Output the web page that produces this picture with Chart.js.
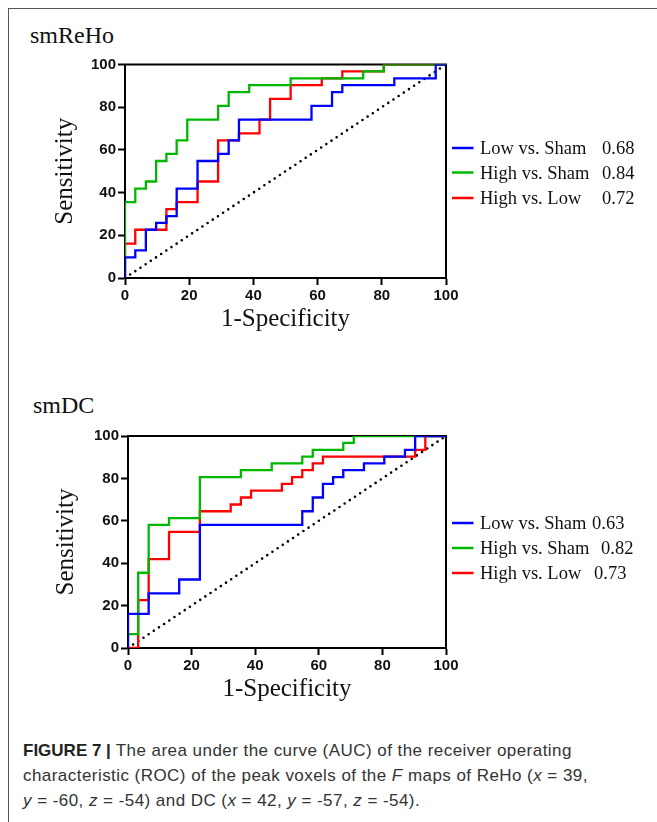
<!DOCTYPE html>
<html lang="en">
<head>
<meta charset="UTF-8">
<title>Figure 7 | ROC of ReHo and DC</title>
<script src="https://cdn.jsdelivr.net/npm/chart.js"></script>
<style>
  body { margin: 0; background: #fff; }
  .page { position: relative; width: 657px; height: 822px; overflow: hidden; background: #fff; }
  .frame { position: absolute; left: 8px; top: 8px; width: 700px; height: 900px;
           border-left: 1.5px solid #555; border-top: 1.5px solid #555; }
  .panel { position: absolute; left: 0; }
  .tag { position: absolute; font: 24px "Liberation Serif", serif; line-height: 24px; color: #111; white-space: nowrap; }
  .caption { position: absolute; left: 23px; top: 738px; font: 17px "Liberation Sans", Arial, sans-serif;
             letter-spacing: 0.45px; line-height: 25px; color: #333; white-space: nowrap; }
  .caption b { color: #222; letter-spacing: 0; }
</style>
</head>
<body>
<div class="page">
  <div class="frame"></div>

  <div class="tag" style="left:30px; top:23px">smReHo</div>
  <canvas id="chartReho" class="panel" style="top:0" width="657" height="350"></canvas>

  <div class="tag" style="left:33px; top:393px">smDC</div>
  <canvas id="chartDc" class="panel" style="top:370px" width="657" height="350"></canvas>

  <div class="caption"><b>FIGURE 7 |</b> The area under the curve (AUC) of the receiver operating<br>characteristic (ROC) of the peak voxels of the <i>F</i> maps of ReHo (<i>x</i> = 39,<br><i>y</i> = -60, <i>z</i> = -54) and DC (<i>x</i> = 42, <i>y</i> = -57, <i>z</i> = -54).</div>
</div>

<script>
  // ---- data (1-specificity / sensitivity, in %) ----
  const tick_values = [0, 20, 40, 60, 80, 100];
  const series_names = ['Low vs. Sham', 'High vs. Sham', 'High vs. Low'];

  // smReHo
  const reho_low_sham_x  = [0, 0, 3.2, 6.5, 9.7, 12.9, 16.1, 22.6, 29.0, 32.3, 35.5, 58.1, 64.5, 67.7, 83.9, 96.8, 100];
  const reho_low_sham_y  = [0, 9.7, 12.9, 22.6, 25.8, 29.0, 41.9, 54.8, 58.1, 64.5, 74.2, 80.6, 87.1, 90.3, 93.5, 100, 100];
  const reho_high_sham_x = [0, 0, 3.2, 6.5, 9.7, 12.9, 16.1, 19.4, 29.0, 32.3, 38.7, 51.6, 74.2, 80.6, 100];
  const reho_high_sham_y = [0, 35.5, 41.9, 45.2, 54.8, 58.1, 64.5, 74.2, 80.6, 87.1, 90.3, 93.5, 96.8, 100, 100];
  const reho_high_low_x  = [0, 0, 3.2, 12.9, 16.1, 22.6, 29.0, 35.5, 41.9, 45.2, 51.6, 61.3, 67.7, 80.6, 100];
  const reho_high_low_y  = [0, 16.1, 22.6, 32.3, 35.5, 45.2, 64.5, 67.7, 74.2, 83.9, 90.3, 93.5, 96.8, 100, 100];
  const reho_auc = ['0.68', '0.84', '0.72'];

  // smDC
  const dc_low_sham_x  = [0, 0, 6.5, 16.1, 22.6, 54.8, 58.1, 61.3, 64.5, 67.7, 74.2, 80.6, 87.1, 90.3, 100];
  const dc_low_sham_y  = [0, 16.1, 25.8, 32.3, 58.1, 64.5, 71.0, 77.4, 80.6, 83.9, 87.1, 90.3, 93.5, 100, 100];
  const dc_high_sham_x = [0, 0, 3.2, 6.5, 12.9, 22.6, 35.5, 45.2, 54.8, 58.1, 67.7, 71.0, 100];
  const dc_high_sham_y = [0, 6.5, 35.5, 58.1, 61.3, 80.6, 83.9, 87.1, 90.3, 93.5, 96.8, 100, 100];
  const dc_high_low_x  = [0, 3.2, 6.5, 12.9, 22.6, 32.3, 35.5, 38.7, 48.4, 51.6, 54.8, 58.1, 61.3, 90.3, 93.5, 100];
  const dc_high_low_y  = [0, 22.6, 41.9, 54.8, 64.5, 67.7, 71.0, 74.2, 77.4, 80.6, 83.9, 87.1, 90.3, 93.5, 100, 100];
  const dc_auc = ['0.63', '0.82', '0.73'];

  // chance line
  const chance_x = [0, 100];
  const chance_y = [0, 100];

  const series_colors = ['#0000ff', '#00b800', '#ff0000'];

  function toPoints(xs, ys) {
    return xs.map((x, i) => ({ x: x, y: ys[i] }));
  }

  // legend with the AUC column, drawn on the chart canvas
  function legendPlugin(auc, baselines, valueX) {
    return {
      id: 'aucLegend',
      afterDraw(chart) {
        const ctx = chart.ctx;
        ctx.save();
        ctx.font = '18.5px "Liberation Serif", serif';
        ctx.fillStyle = '#111';
        ctx.textBaseline = 'alphabetic';
        for (let i = 0; i < series_names.length; i++) {
          const b = baselines[i];
          ctx.strokeStyle = series_colors[i];
          ctx.lineWidth = 2.5;
          ctx.beginPath();
          ctx.moveTo(452, b - 6);
          ctx.lineTo(473.5, b - 6);
          ctx.stroke();
          ctx.fillText(series_names[i], 480, b);
          ctx.fillText(auc[i], valueX[i], b);
        }
        ctx.restore();
      }
    };
  }

  // black box around the plot area, under the curves
  const framePlugin = {
    id: 'plotFrame',
    beforeDatasetsDraw(chart) {
      const a = chart.chartArea;
      const ctx = chart.ctx;
      ctx.save();
      ctx.strokeStyle = '#000';
      ctx.lineWidth = 2;
      ctx.strokeRect(a.left, a.top, a.right - a.left, a.bottom - a.top);
      ctx.restore();
    }
  };

  function axis(title, titlePad, fit) {
    return {
      type: 'linear', min: 0, max: 100,
      afterBuildTicks: s => { s.ticks = tick_values.map(v => ({ value: v })); },
      afterFit: fit,
      grid: { drawOnChartArea: false, drawTicks: true, tickLength: 7, tickWidth: 2, tickColor: '#000' },
      border: { color: '#000', width: 2 },
      ticks: { color: '#111', padding: 2, autoSkip: false, maxRotation: 0,
               font: { family: 'Liberation Sans', size: 15, weight: 'bold' } },
      title: { display: true, text: title, color: '#111', padding: titlePad,
               font: { family: 'Liberation Serif', size: 25 } }
    };
  }

  function buildChart(id, series, auc, pad, yTitlePad, baselines, valueX) {
    const datasets = series.map((s, i) => ({
      label: series_names[i],
      data: toPoints(s[0], s[1]),
      borderColor: series_colors[i],
      borderWidth: 2.3,
      pointRadius: 0,
      stepped: 'before',
      fill: false
    }));
    datasets.push({
      label: 'chance',
      data: toPoints(chance_x, chance_y),
      borderColor: '#000',
      borderWidth: 2.6,
      borderDash: [0, 6.2],
      borderCapStyle: 'round',
      pointRadius: 0,
      fill: false
    });

    new Chart(document.getElementById(id), {
      type: 'line',
      data: { datasets: datasets },
      options: {
        responsive: false,
        animation: false,
        layout: { padding: pad },
        plugins: { legend: { display: false }, tooltip: { enabled: false } },
        scales: {
          x: axis('1-Specificity', { bottom: 15.5 }, s => { s.height = 72; }),
          y: axis('Sensitivity', { top: yTitlePad }, s => { s.width = 85; })
        }
      },
      plugins: [framePlugin, legendPlugin(auc, baselines, valueX)]
    });
  }

  buildChart('chartReho',
    [[reho_low_sham_x, reho_low_sham_y], [reho_high_sham_x, reho_high_sham_y], [reho_high_low_x, reho_high_low_y]],
    reho_auc, { left: 40, top: 64.5, right: 211, bottom: 0 }, 10.5,
    [154, 178.5, 204], [602, 602, 602]);

  buildChart('chartDc',
    [[dc_low_sham_x, dc_low_sham_y], [dc_high_sham_x, dc_high_sham_y], [dc_high_low_x, dc_high_low_y]],
    dc_auc, { left: 43, top: 66, right: 211, bottom: 0 }, 8,
    [159, 184, 209], [592, 601, 594]);
</script>
</body>
</html>
